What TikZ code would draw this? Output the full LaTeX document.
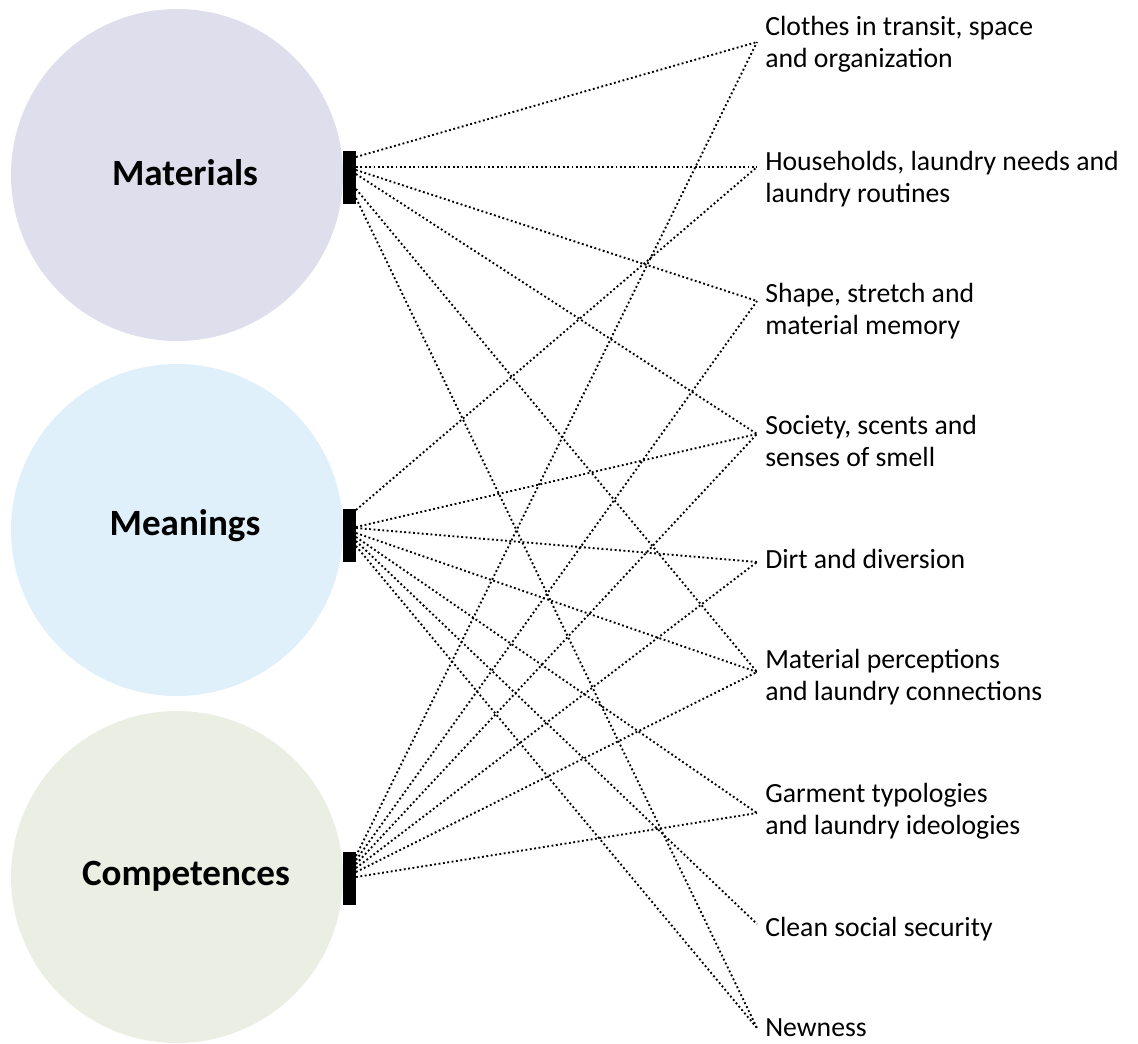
\documentclass[tikz,border=0pt]{standalone}
\usepackage{fontspec}
\setmainfont{Carlito}
\begin{document}
\begin{tikzpicture}[x=0.75pt,y=-0.75pt,
  bubble/.style={circle,inner sep=0pt,minimum size=332pt*0.75,draw=none},
  title/.style={font=\fontsize{27.8}{32}\selectfont\bfseries,inner sep=0pt,anchor=base},
  bar/.style={fill=black,draw=none,inner sep=0pt,minimum width=13*0.75pt,minimum height=53*0.75pt},
  item/.style={font=\fontsize{20.8}{24}\selectfont,inner sep=0pt,align=left,anchor=north west},
  link/.style={line width=1.4pt,dash pattern=on 1.4pt off 1.9pt}]
\definecolor{matfill}{HTML}{DFDEEC}
\definecolor{meanfill}{HTML}{E0F0FA}
\definecolor{compfill}{HTML}{EBEEE3}
\useasboundingbox (0,0) rectangle (1138,1043);

% the three element circles
\node[bubble,fill=matfill]  (cmat)  at (177,175) {};
\node[bubble,fill=meanfill] (cmean) at (177,530) {};
\node[bubble,fill=compfill] (ccomp) at (177,877) {};
\node[title] (tmat)  at (185,185) {Materials};
\node[title] (tmean) at (185,535) {Meanings};
\node[title] (tcomp) at (186,885) {Competences};

% black connector bars
\node[bar] (bmat)  at (349.5,177) {};
\node[bar] (bmean) at (349.5,535) {};
\node[bar] (bcomp) at (349.5,878.5) {};

% theme labels (top of first-line strut = baseline - 22.4)
\node[item] (l1) at (765,13)   {\strut Clothes in transit, space\\and organization};
\node[item] (l2) at (765,148)  {\strut Households, laundry needs and\\laundry routines};
\node[item] (l3) at (765,280)  {\strut Shape, stretch and\\material memory};
\node[item] (l4) at (765,412)  {\strut Society, scents and\\senses of smell};
\node[item] (l5) at (765,546)  {\strut Dirt and diversion};
\node[item] (l6) at (765,646)  {\strut Material perceptions\\and laundry connections};
\node[item] (l7) at (765,780)  {\strut Garment typologies\\and laundry ideologies};
\node[item] (l8) at (765,914)  {\strut Clean social security};
\node[item] (l9) at (765,1014) {\strut Newness};

% connector ends beside the labels
\coordinate (e1) at (757,42);
\coordinate (e2) at (757,167);
\coordinate (e3) at (757,301);
\coordinate (e4) at (757,434);
\coordinate (e5) at (757,562);
\coordinate (e6) at (757,672);
\coordinate (e7) at (757,813);
\coordinate (e8) at (757,924);
\coordinate (e9) at (757,1028);

% connector starts on the bars
\coordinate (ma1) at (356,157);
\coordinate (ma2) at (356,167);
\coordinate (ma3) at (356,170);
\coordinate (ma4) at (356,174);
\coordinate (ma6) at (356,189);
\coordinate (ma9) at (356,198);

\coordinate (me2) at (356,510);
\coordinate (me4) at (356,527);
\coordinate (me5) at (356,528);
\coordinate (me6) at (356,533);
\coordinate (me7) at (356,537);
\coordinate (me8) at (356,541);
\coordinate (me9) at (356,546);

\coordinate (co1) at (356,856);
\coordinate (co3) at (356,860);
\coordinate (co4) at (356,864);
\coordinate (co5) at (356,868);
\coordinate (co6) at (356,872);
\coordinate (co7) at (356,877);

% Materials
\draw[link] (ma1) -- (e1);
\draw[link] (ma2) -- (e2);
\draw[link] (ma3) -- (e3);
\draw[link] (ma4) -- (e4);
\draw[link] (ma6) -- (e6);
\draw[link] (ma9) -- (e9);
% Meanings
\draw[link] (me2) -- (e2);
\draw[link] (me4) -- (e4);
\draw[link] (me5) -- (e5);
\draw[link] (me6) -- (e6);
\draw[link] (me7) -- (e7);
\draw[link] (me8) -- (e8);
\draw[link] (me9) -- (e9);
% Competences
\draw[link] (co1) -- (e1);
\draw[link] (co3) -- (e3);
\draw[link] (co4) -- (e4);
\draw[link] (co5) -- (e5);
\draw[link] (co6) -- (e6);
\draw[link] (co7) -- (e7);
\end{tikzpicture}
\end{document}
